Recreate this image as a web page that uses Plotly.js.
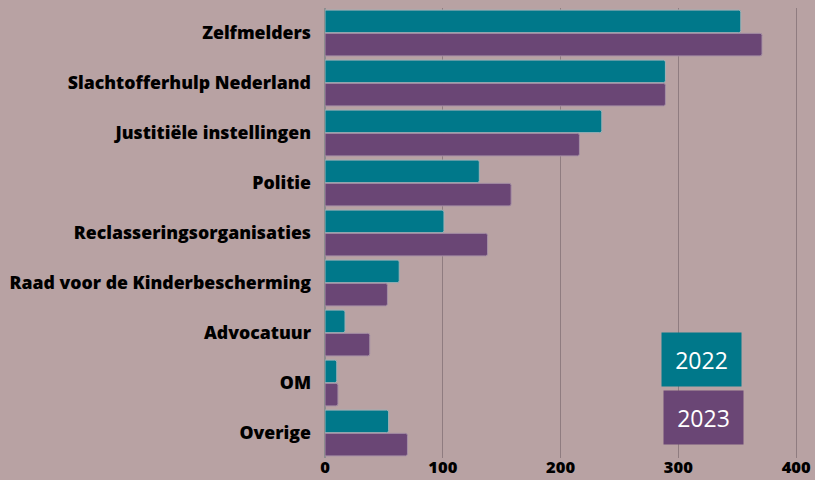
<!DOCTYPE html>
<html><head><meta charset="utf-8">
<script src="https://cdn.plot.ly/plotly-3.0.1.min.js"></script>
<style>html,body{margin:0;padding:0;background:#b8a2a3;}</style>
</head><body>
<div id="chart" style="width:815px;height:480px;"></div>
<script>
const categories = ["Zelfmelders","Slachtofferhulp Nederland","Justitiële instellingen","Politie","Reclasseringsorganisaties","Raad voor de Kinderbescherming","Advocatuur","OM","Overige"];
const seriesNames = ["2022","2023"];
const values2022 = [353, 289, 235, 131, 101, 63, 17, 10, 54];
const values2023 = [371, 289, 216, 158, 138, 53, 38, 11, 70];
const xTicks = [0, 100, 200, 300, 400];

const teal = "#00788a";
const purple = "#6a4675";
const bg = "#b8a2a3";

const traces = [
  {type:"bar", orientation:"h", name:seriesNames[0], y:categories, x:values2022,
   marker:{color:teal, line:{color:"#9fb3b8", width:1}}, hoverinfo:"x+y"},
  {type:"bar", orientation:"h", name:seriesNames[1], y:categories, x:values2023,
   marker:{color:purple, line:{color:"#a58fa5", width:1}}, hoverinfo:"x+y"}
];

const layout = {
  width:815, height:480,
  paper_bgcolor:bg, plot_bgcolor:bg,
  margin:{l:325, r:0, t:8, b:22},
  barmode:"group", bargap:0.07, bargroupgap:0.03,
  barcornerradius:2,
  showlegend:false,
  font:{family:"Open Sans, sans-serif", color:"#000"},
  xaxis:{range:[0,416], tickvals:xTicks, ticktext:xTicks.map(String),
    showgrid:true, gridcolor:"#8f7c80", gridwidth:1,
    zeroline:true, zerolinecolor:"#8d8d8d", zerolinewidth:2,
    ticklabelstandoff:-3,
    tickfont:{family:"Open Sans", size:16.5, color:"#000", weight:800}, fixedrange:true},
  yaxis:{type:"category", categoryorder:"array", categoryarray:categories, autorange:"reversed",
    showgrid:false, zeroline:false, ticks:"", ticklabelstandoff:13,
    tickfont:{family:"Open Sans", size:17.7, color:"#000", weight:800}},
  annotations:[
    {xref:"x", yref:"paper", x:319.5, y:0.22, xanchor:"center", yanchor:"middle", text:seriesNames[0], showarrow:false,
     bgcolor:teal, width:79, height:53, borderpad:0, font:{family:"Open Sans", size:23, color:"#fff"}},
    {xref:"x", yref:"paper", x:321.5, y:0.091, xanchor:"center", yanchor:"middle", text:seriesNames[1], showarrow:false,
     bgcolor:purple, width:79, height:53, borderpad:0, font:{family:"Open Sans", size:23, color:"#fff"}}
  ]
};
Plotly.newPlot("chart", traces, layout, {displayModeBar:false, staticPlot:true});
</script>
</body></html>
